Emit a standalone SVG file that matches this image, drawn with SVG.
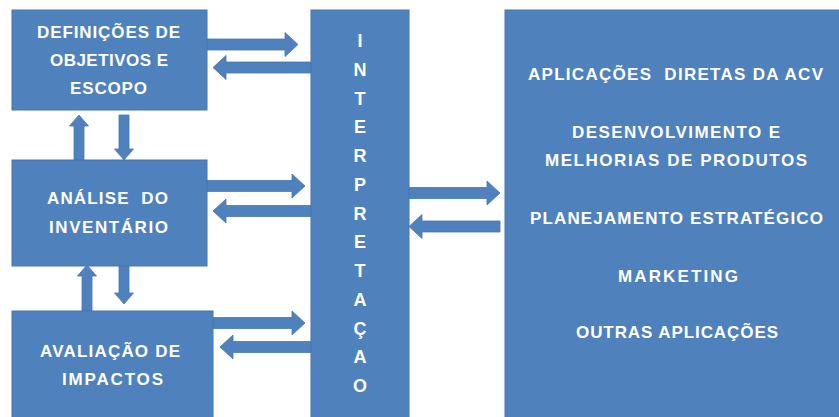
<svg xmlns="http://www.w3.org/2000/svg" width="839" height="417" viewBox="0 0 839 417">
<style>
.box{fill:#4F81BD;stroke:#4677B3;stroke-width:1}
.arr{fill:#4F81BD;stroke:#4677B3;stroke-width:0.8}
.t{font-family:"Liberation Sans",Arial,sans-serif;font-weight:bold;font-size:17px;fill:#FFFFFF;text-anchor:middle;white-space:pre}
.v{font-family:"Liberation Sans",Arial,sans-serif;font-weight:bold;font-size:18px;fill:#FFFFFF;text-anchor:middle}
</style>
<rect width="839" height="417" fill="#FFFFFF"/>
<g id="connectors">
<path class="arr" d="M207,39 H285 V32.5 L298,44.5 L285,56.5 V50 H207 Z"/>
<path class="arr" d="M311,62 H226 V55.5 L213,67.5 L226,79.5 V73 H311 Z"/>
<path class="arr" d="M207,180.5 H292 V174 L305,186 L292,198 V191.5 H207 Z"/>
<path class="arr" d="M311,205.5 H226 V199 L213,211 L226,223 V216.5 H311 Z"/>
<path class="arr" d="M213,317.5 H292 V311 L305,323 L292,335 V328.5 H213 Z"/>
<path class="arr" d="M311,341.5 H233 V335 L220,347 L233,359 V352.5 H311 Z"/>
<path class="arr" d="M409,187.5 H487 V181 L500,193 L487,205 V198.5 H409 Z"/>
<path class="arr" d="M500,221 H422 V214.5 L409,226.5 L422,238.5 V232 H500 Z"/>
<path class="arr" d="M74,160 V126 H69.5 L79,115 L88.5,126 H84 V160 Z"/>
<path class="arr" d="M119,115 V149 H114.5 L124,160 L133.5,149 H129 V115 Z"/>
<path class="arr" d="M82,311 V276 H77.5 L87,265 L96.5,276 H92 V311 Z"/>
<path class="arr" d="M119,266 V293 H114.5 L124,304 L133.5,293 H129 V266 Z"/>
</g>
<g id="definicoes">
<rect class="box" x="12" y="10" width="195" height="100"/>
<text class="t" x="108.5" y="38" textLength="143">DEFINIÇÕES DE</text>
<text class="t" x="109" y="66" textLength="118">OBJETIVOS E</text>
<text class="t" x="108.5" y="94" textLength="77">ESCOPO</text>
</g>
<g id="inventario">
<rect class="box" x="12" y="160" width="195" height="106"/>
<text class="t" x="107.5" y="204" textLength="121">ANÁLISE  DO</text>
<text class="t" x="108.5" y="233" textLength="119">INVENTÁRIO</text>
</g>
<g id="avaliacao">
<rect class="box" x="12" y="311" width="201" height="110"/>
<text class="t" x="110" y="357" textLength="140">AVALIAÇÃO DE</text>
<text class="t" x="112.5" y="385" textLength="101">IMPACTOS</text>
</g>
<g id="interpretacao">
<rect class="box" x="311" y="10" width="98" height="411"/>
<text class="v" x="360" y="47">I</text>
<text class="v" x="360" y="76">N</text>
<text class="v" x="360" y="104.5">T</text>
<text class="v" x="360" y="133">E</text>
<text class="v" x="360" y="162">R</text>
<text class="v" x="360" y="191">P</text>
<text class="v" x="360" y="219.5">R</text>
<text class="v" x="360" y="248">E</text>
<text class="v" x="360" y="277">T</text>
<text class="v" x="360" y="306">A</text>
<text class="v" x="360" y="334.5">Ç</text>
<text class="v" x="360" y="363">A</text>
<text class="v" x="360" y="392">O</text>
</g>
<g id="aplicacoes">
<rect class="box" x="505" y="10" width="340" height="411"/>
<text class="t" x="675.5" y="80" textLength="295">APLICAÇÕES  DIRETAS DA ACV</text>
<text class="t" x="676" y="138" textLength="208">DESENVOLVIMENTO E</text>
<text class="t" x="676" y="166" textLength="262">MELHORIAS DE PRODUTOS</text>
<text class="t" x="676.5" y="224" textLength="293">PLANEJAMENTO ESTRATÉGICO</text>
<text class="t" x="678" y="282" textLength="120">MARKETING</text>
<text class="t" x="677" y="338" textLength="202">OUTRAS APLICAÇÕES</text>
</g>
</svg>
